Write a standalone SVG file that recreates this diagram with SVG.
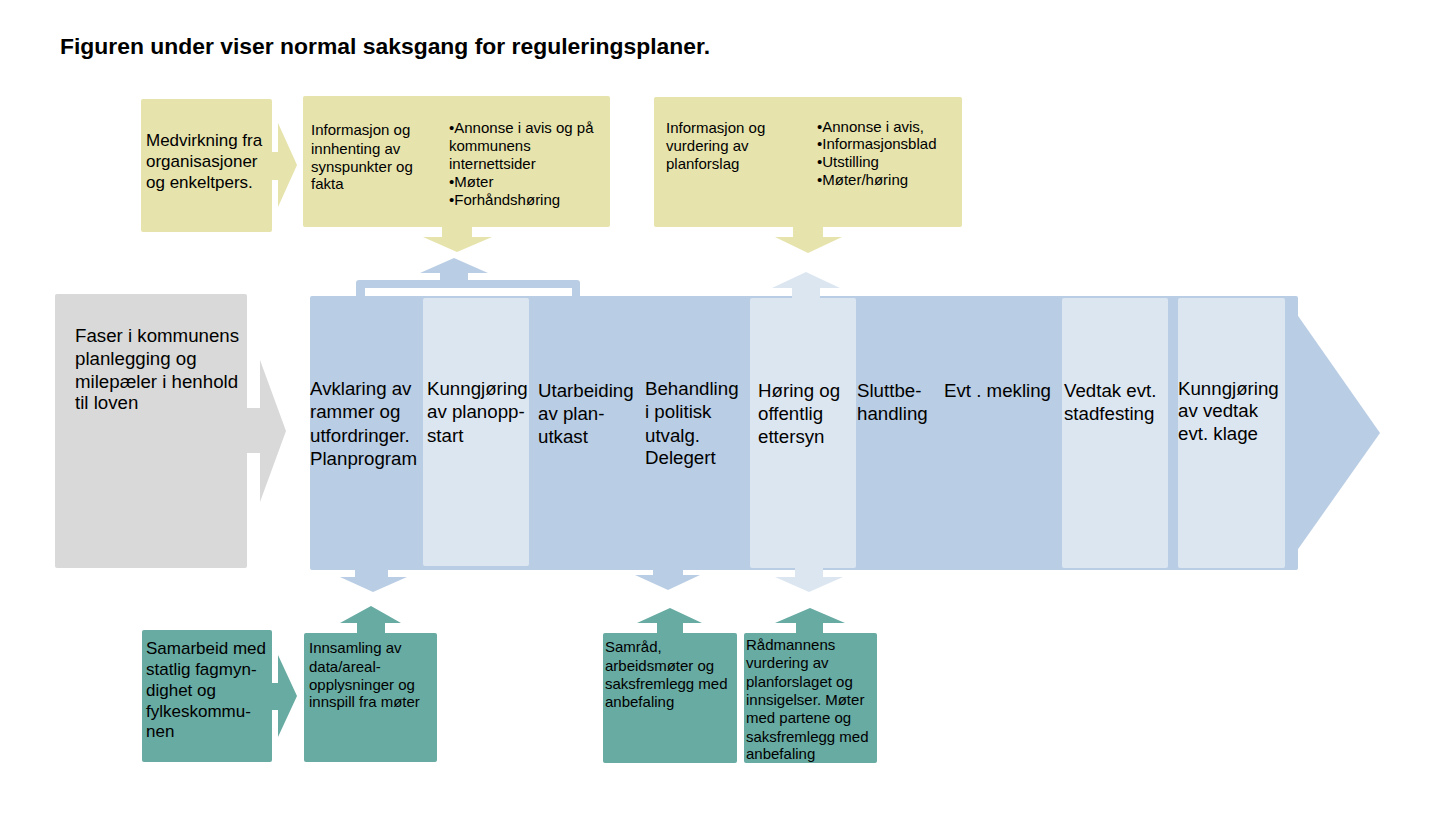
<svg xmlns="http://www.w3.org/2000/svg" width="1439" height="818" viewBox="0 0 1439 818">
<style>
text{font-family:"Liberation Sans",Arial,sans-serif;fill:#000}
.title{font-size:22.9px;font-weight:bold}
.big{font-size:18.7px}
.mid{font-size:17px}
.sm{font-size:15px}
.yel{fill:#e6e3ac}
.teal{fill:#67aba3}
.gray{fill:#d9d9d9}
.blue{fill:#b9cde4}
.light{fill:#dce6f1}
</style>
<rect width="1439" height="818" fill="#fff"/>
<text class="title" x="60" y="54">Figuren under viser normal saksgang for reguleringsplaner.</text>

<g id="bracket">
<rect class="blue" x="356" y="280" width="224" height="22" rx="3"/>
<rect x="365" y="288" width="207" height="10" fill="#fff"/>
</g>

<g id="main-arrow">
<rect class="blue" x="310" y="296" width="988" height="274" rx="2"/>
<polygon class="blue" points="1296,313 1380,433 1296,552"/>
<rect class="light" x="423" y="298" width="106" height="268" rx="2"/>
<rect class="light" x="750" y="298" width="106" height="270" rx="2"/>
<rect class="light" x="1062" y="298" width="106" height="270" rx="2"/>
<rect class="light" x="1178" y="298" width="107" height="270" rx="2"/>
</g>

<g id="phase-avklaring"><text class="big"><tspan x="310" y="395">Avklaring av</tspan><tspan x="310" y="418">rammer og</tspan><tspan x="310" y="442">utfordringer.</tspan><tspan x="310" y="465">Planprogram</tspan></text></g>
<g id="phase-kunngjoring"><text class="big"><tspan x="427" y="395">Kunngjøring</tspan><tspan x="427" y="418">av planopp-</tspan><tspan x="427" y="442">start</tspan></text></g>
<g id="phase-utarbeiding"><text class="big"><tspan x="538" y="397">Utarbeiding</tspan><tspan x="538" y="420">av plan-</tspan><tspan x="538" y="443">utkast</tspan></text></g>
<g id="phase-behandling"><text class="big"><tspan x="645" y="395">Behandling</tspan><tspan x="645" y="418">i politisk</tspan><tspan x="645" y="442">utvalg.</tspan><tspan x="645" y="464">Delegert</tspan></text></g>
<g id="phase-horing"><text class="big"><tspan x="758" y="397">Høring og</tspan><tspan x="758" y="420">offentlig</tspan><tspan x="758" y="443">ettersyn</tspan></text></g>
<g id="phase-slutt"><text class="big"><tspan x="857" y="397">Sluttbe-</tspan><tspan x="857" y="420">handling</tspan></text></g>
<g id="phase-mekling"><text class="big" x="944" y="397">Evt . mekling</text></g>
<g id="phase-vedtak"><text class="big"><tspan x="1064" y="397">Vedtak evt.</tspan><tspan x="1064" y="420">stadfesting</tspan></text></g>
<g id="phase-kunngjoring-vedtak"><text class="big"><tspan x="1178" y="395">Kunngjøring</tspan><tspan x="1178" y="417">av vedtak</tspan><tspan x="1178" y="440">evt. klage</tspan></text></g>

<g id="faser">
<rect class="gray" x="55" y="294" width="192" height="274" rx="2"/>
<text class="big"><tspan x="75" y="342">Faser i kommunens</tspan><tspan x="75" y="365">planlegging og</tspan><tspan x="75" y="388">milepæler i henhold</tspan><tspan x="75" y="409">til loven</tspan></text>
</g>

<g id="medvirkning">
<rect class="yel" x="141" y="99" width="131" height="133" rx="2"/>
<text class="mid"><tspan x="146" y="146">Medvirkning fra</tspan><tspan x="146" y="167">organisasjoner</tspan><tspan x="146" y="188">og enkeltpers.</tspan></text>
</g>

<g id="info-innhenting">
<rect class="yel" x="303" y="96" width="307" height="131" rx="2"/>
<text class="sm"><tspan x="311" y="135">Informasjon og</tspan><tspan x="311" y="154">innhenting av</tspan><tspan x="311" y="172">synspunkter og</tspan><tspan x="311" y="189">fakta</tspan></text>
<text class="sm"><tspan x="449" y="133">•Annonse i avis og på</tspan><tspan x="449" y="151">kommunens</tspan><tspan x="449" y="169">internettsider</tspan><tspan x="449" y="187">•Møter</tspan><tspan x="449" y="205">•Forhåndshøring</tspan></text>
</g>

<g id="info-vurdering">
<rect class="yel" x="654" y="97" width="308" height="130" rx="2"/>
<text class="sm"><tspan x="666" y="133">Informasjon og</tspan><tspan x="666" y="151">vurdering av</tspan><tspan x="666" y="169">planforslag</tspan></text>
<text class="sm"><tspan x="817" y="132">•Annonse i avis,</tspan><tspan x="817" y="149">•Informasjonsblad</tspan><tspan x="817" y="167">•Utstilling</tspan><tspan x="817" y="185">•Møter/høring</tspan></text>
</g>

<g id="samarbeid">
<rect class="teal" x="142" y="630" width="130" height="132" rx="2"/>
<text class="mid"><tspan x="146" y="654">Samarbeid med</tspan><tspan x="146" y="675">statlig fagmyn-</tspan><tspan x="146" y="696">dighet og</tspan><tspan x="146" y="717">fylkeskommu-</tspan><tspan x="146" y="737">nen</tspan></text>
</g>

<g id="innsamling">
<rect class="teal" x="304" y="633" width="133" height="129" rx="2"/>
<text class="sm"><tspan x="309" y="653">Innsamling av</tspan><tspan x="309" y="672">data/areal-</tspan><tspan x="309" y="690">opplysninger og</tspan><tspan x="309" y="707">innspill fra møter</tspan></text>
</g>

<g id="samrad">
<rect class="teal" x="603" y="633" width="134" height="130" rx="2"/>
<text class="sm"><tspan x="605" y="652">Samråd,</tspan><tspan x="605" y="671">arbeidsmøter og</tspan><tspan x="605" y="689">saksfremlegg med</tspan><tspan x="605" y="707">anbefaling</tspan></text>
</g>

<g id="radmannens">
<rect class="teal" x="744" y="633" width="133" height="130" rx="2"/>
<text class="sm"><tspan x="746" y="650">Rådmannens</tspan><tspan x="746" y="668">vurdering av</tspan><tspan x="746" y="687">planforslaget og</tspan><tspan x="746" y="705">innsigelser. Møter</tspan><tspan x="746" y="723">med partene og</tspan><tspan x="746" y="742">saksfremlegg med</tspan><tspan x="746" y="759">anbefaling</tspan></text>
</g>

<g id="connectors" stroke-linejoin="round">
<polygon class="gray" points="247,408 260,408 260,360 286,431 260,502 260,453 247,453"/>
<polygon class="yel" points="272,152 278,152 278,123 297,165 278,207 278,180 272,180"/>
<polygon class="teal" points="272,683 278,683 278,655 297,696 278,737 278,710 272,710"/>
<polygon class="yel" points="442,227 472,227 472,237 492,237 457,252 423,237 442,237"/>
<polygon class="blue" points="454,258 488,273 468,273 468,281 440,281 440,273 420,273"/>
<polygon class="yel" points="793,227 823,227 823,237 842,237 808,253 775,237 793,237"/>
<polygon class="light" points="806,272 840,288 820,288 820,298 792,298 792,288 772,288"/>
<polygon class="blue" points="355,569 388,569 388,577 407,577 373,592 340,577 355,577"/>
<polygon class="teal" points="371,606 401,623 385,623 385,634 357,634 357,623 340,623"/>
<polygon class="blue" points="653,569 683,569 683,575 700,575 668,590 635,575 653,575"/>
<polygon class="teal" points="670,608 702,623 683,623 683,634 657,634 657,623 637,623"/>
<polygon class="light" points="795,567 823,567 823,577 843,577 809,592 775,577 795,577"/>
<polygon class="teal" points="810,608 845,623 823,623 823,634 796,634 796,623 775,623"/>
</g>
</svg>
